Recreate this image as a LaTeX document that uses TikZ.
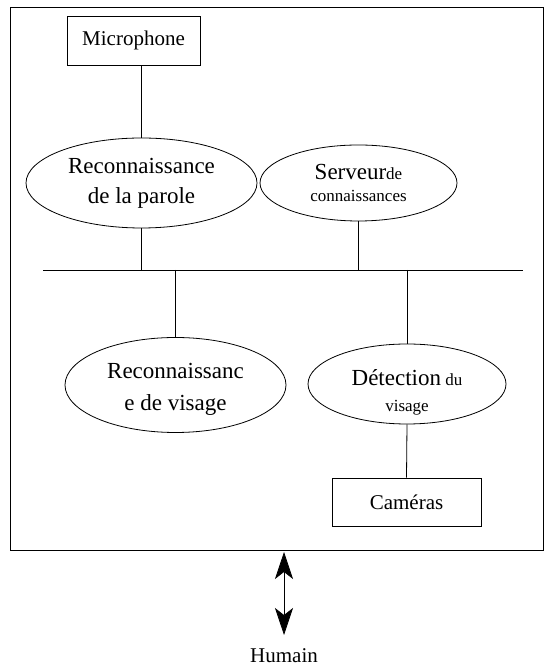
\documentclass[tikz,border=0pt]{standalone}
\usepackage{fontspec}
\setmainfont{Liberation Serif}
\usetikzlibrary{shapes.geometric,arrows.meta}
\begin{document}
\begin{tikzpicture}[x=1pt,y=1pt,
  wire/.style={line width=0.8pt},
  box/.style={draw,line width=0.8pt,rectangle,inner sep=0pt,font=\fontsize{21}{24}\selectfont},
  blob/.style={draw,line width=0.8pt,ellipse,inner sep=0pt},
  caption/.style={align=center,inner sep=0pt}]
\useasboundingbox (0,0) rectangle (545,666);
% system frame
\draw[wire] (10,116) rectangle (543,659);
% components
\node[box,minimum width=133pt,minimum height=49pt] (mic) at (133.5,625.5) {Microphone};
\node[blob,minimum width=231pt,minimum height=90pt,
  label={[caption,font=\fontsize{23}{30}\selectfont]center:Reconnaissance\\de la parole}]
  (parole) at (141.5,483) {};
\node[blob,minimum width=197pt,minimum height=76pt,
  label={[caption,font=\fontsize{17}{22}\selectfont]center:{\fontsize{23}{22}\selectfont Serveur}de\\connaissances}]
  (serveur) at (358.5,483) {};
\node[blob,minimum width=221pt,minimum height=95pt,
  label={[caption,yshift=-4pt,font=\fontsize{23}{32}\selectfont]center:Reconnaissanc\\e de visage}]
  (visage) at (175.5,281) {};
\node[blob,minimum width=198pt,minimum height=80pt,
  label={[caption,yshift=-8pt,font=\fontsize{17}{26}\selectfont]center:{\fontsize{23}{26}\selectfont D\'etection} du\\visage}]
  (detect) at (407,282) {};
\node[box,minimum width=149pt,minimum height=48pt] (cam) at (406.5,164) {Cam\'eras};
% bus
\coordinate (busL) at (43,396);
\coordinate (busR) at (523,396);
\draw[wire] (busL) -- (busR);
% links
\draw[wire] (parole.north |- mic.south) -- (parole.north);
\draw[wire] (parole.south) -- (parole.south |- busL);
\draw[wire] (serveur.south) -- (serveur.south |- busL);
\draw[wire] (visage.north |- busL) -- (visage.north);
\draw[wire] (detect.north |- busL) -- (detect.north);
\draw[wire] (detect.south) -- (cam.north);
% user interaction
\node[font=\fontsize{21}{24}\selectfont,anchor=base] (humain) at (284,4) {Humain};
\coordinate (top) at (284,114);
\coordinate (bot) at (284,31);
\draw[line width=0.7pt,{Stealth[length=27pt,width=18pt,inset=7pt]}-{Stealth[length=27pt,width=18pt,inset=7pt]}] (top) -- (bot);
\end{tikzpicture}
\end{document}
